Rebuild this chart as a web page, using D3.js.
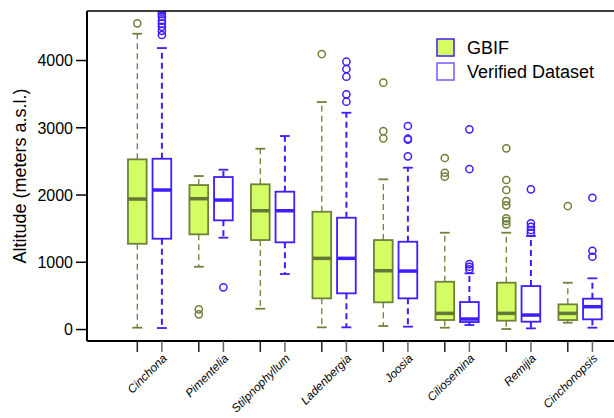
<!DOCTYPE html>
<html>
<head>
<meta charset="utf-8">
<script src="https://cdn.jsdelivr.net/npm/d3@7"></script>
<style>
  body { margin: 0; background: #fff; }
  svg { display: block; font-family: "Liberation Sans", Arial, sans-serif; }
</style>
</head>
<body>
<svg id="chart" width="614" height="418"></svg>
<script>
//
// Data (altitude, m a.s.l.)  [lower whisker, q1, median, q3, upper whisker]
//
var genera = ['Cinchona', 'Pimentelia', 'Stilpnophyllum', 'Ladenbergia',
              'Joosia', 'Ciliosemina', 'Remijia', 'Cinchonopsis']

var gbifStats = [
  [20, 1268, 1933, 2523, 4391],
  [926, 1408, 1938, 2141, 2275],
  [302, 1323, 1759, 2152, 2681],
  [25, 456, 1051, 1744, 3375],
  [45, 397, 867, 1323, 2226],
  [20, 134, 233, 703, 1432],
  [0, 124, 233, 689, 1432],
  [94, 134, 233, 367, 689]
]
var verifiedStats = [
  [15, 1343, 2067, 2532, 4178],
  [1358, 1616, 1918, 2260, 2369],
  [818, 1289, 1759, 2042, 2870],
  [25, 531, 1051, 1655, 3216],
  [35, 456, 862, 1298, 2399],
  [60, 104, 149, 401, 828],
  [10, 109, 208, 639, 1383],
  [20, 144, 332, 451, 754]
]
var gbifOutliers = [
  [4546],
  [293, 219],
  [],
  [4089],
  [3663, 2944, 2836],
  [2543, 2324, 2265],
  [2687, 2216, 2067, 1903, 1839, 1646, 1606, 1557],
  [1829]
]
var verifiedOutliers = [
  [4372, 4434, 4495, 4540, 4585, 4644, 4684, 4720, 4760, 4800],
  [620],
  [],
  [3975, 3866, 3752, 3490, 3380],
  [3019, 2830, 2815, 2568],
  [2969, 2379, 966, 926, 888],
  [2077, 1572, 1521, 1472, 1432],
  [1952, 1164, 1075]
]
var yTicks = [0, 1000, 2000, 3000, 4000]

//
// Styles
//
var colorFill = '#d4fc64'
var colorOlive = '#6e8139'
var colorBlue = '#3c1eff'

var svg = d3.select('#chart')
var pLeft = 87, pTop = 11, pBottom = 341, pRight = 614

var y = d3.scaleLinear().domain([-178, 4729]).range([pBottom, pTop])
// box positions: pairs 1,2 then groups every 2.5 units
var x = d3.scaleLinear().domain([1, 19.5]).range([137.3, 592.4])
function pos(g, s) { return 1 + g * 2.5 + s }

svg.append('defs').append('clipPath').attr('id', 'plotclip')
  .append('rect').attr('x', pLeft).attr('y', pTop).attr('width', pRight - pLeft).attr('height', pBottom - pTop)

var plot = svg.append('g').attr('clip-path', 'url(#plotclip)')

var series = [
  { stats: gbifStats, out: gbifOutliers, fill: colorFill, stroke: colorOlive, med: '#647836', wdash: '6,4', ww: 1.3 },
  { stats: verifiedStats, out: verifiedOutliers, fill: '#fff', stroke: colorBlue, med: colorBlue, wdash: '6,4', ww: 2 }
]

var hw = 0.38, cap = 0.2
series.forEach(function(s, si) {
  var g = plot.append('g')
  s.stats.forEach(function(d, gi) {
    var cx = x(pos(gi, si))
    var bw = x(pos(gi, si) + hw) - cx
    var cw = x(pos(gi, si) + cap) - cx
    // whiskers
    g.append('line').attr('x1', cx).attr('x2', cx).attr('y1', y(d[3])).attr('y2', y(d[4]))
      .attr('stroke', s.stroke).attr('stroke-width', s.ww).attr('stroke-dasharray', s.wdash)
    g.append('line').attr('x1', cx).attr('x2', cx).attr('y1', y(d[1])).attr('y2', y(d[0]))
      .attr('stroke', s.stroke).attr('stroke-width', s.ww).attr('stroke-dasharray', s.wdash)
    g.append('line').attr('x1', cx - cw).attr('x2', cx + cw).attr('y1', y(d[4])).attr('y2', y(d[4]))
      .attr('stroke', s.stroke).attr('stroke-width', 1.8)
    g.append('line').attr('x1', cx - cw).attr('x2', cx + cw).attr('y1', y(d[0])).attr('y2', y(d[0]))
      .attr('stroke', s.stroke).attr('stroke-width', 1.8)
    // box
    g.append('rect').attr('x', cx - bw).attr('width', 2 * bw)
      .attr('y', y(d[3])).attr('height', y(d[1]) - y(d[3]))
      .attr('fill', s.fill).attr('stroke', s.stroke).attr('stroke-width', 1.8)
    // median
    g.append('line').attr('x1', cx - bw).attr('x2', cx + bw).attr('y1', y(d[2])).attr('y2', y(d[2]))
      .attr('stroke', s.med).attr('stroke-width', 3.5)
    // outliers
    g.selectAll(null).data(s.out[gi]).enter().append('circle')
      .attr('cx', cx).attr('cy', function(v) { return y(v) }).attr('r', 3.6)
      .attr('fill', 'none').attr('stroke', s.stroke).attr('stroke-width', 1.5)
  })
})

// frame lines
svg.append('line').attr('x1', pLeft).attr('x2', pRight).attr('y1', pTop).attr('y2', pTop)
  .attr('stroke', '#000').attr('stroke-width', 1.5)
svg.append('line').attr('x1', pLeft).attr('x2', pRight).attr('y1', pBottom).attr('y2', pBottom)
  .attr('stroke', '#000').attr('stroke-width', 2)

// y axis
var yAxis = svg.append('g').attr('transform', 'translate(' + pLeft + ',0)')
  .call(d3.axisLeft(y).tickValues(yTicks).tickFormat(d3.format('d'))
    .tickSize(11).tickPadding(3).tickSizeOuter(0))
yAxis.select('.domain').attr('stroke', '#000').attr('stroke-width', 2)
  .attr('d', 'M0,' + pTop + 'V' + pBottom)
yAxis.selectAll('.tick line').attr('stroke', '#000').attr('stroke-width', 1.5)
yAxis.selectAll('.tick text').attr('font-size', 16).attr('fill', '#000')
  .attr('font-family', '"Liberation Sans", Arial, sans-serif').attr('dy', '0.36em')

// x ticks
var tickPos = []
genera.forEach(function(n, gi) { tickPos.push(pos(gi, 0), pos(gi, 1)) })
svg.append('g').selectAll('line').data(tickPos).enter().append('line')
  .attr('x1', function(p) { return x(p) }).attr('x2', function(p) { return x(p) })
  .attr('y1', pBottom).attr('y2', pBottom + 11)
  .attr('stroke', function(p, i) { return i % 2 ? '#666' : '#222' }).attr('stroke-width', 1.5)

// x labels
svg.append('g').selectAll('text').data(genera).enter().append('text')
  .attr('transform', function(n, gi) {
    var cx = x(pos(gi, 0.5))
    return 'translate(' + (cx + 18) + ',' + 359 + ') rotate(-45)'
  })
  .attr('text-anchor', 'end').attr('font-size', 11.8).attr('font-style', 'italic')
  .text(function(n) { return n })

// y label
svg.append('text').attr('transform', 'translate(26,176) rotate(-90)')
  .attr('text-anchor', 'middle').attr('font-size', 18).text('Altitude (meters a.s.l.)')

// legend
var legend = svg.append('g').attr('transform', 'translate(437,39)')
var items = [{ name: 'GBIF', fill: colorFill }, { name: 'Verified Dataset', fill: '#fff' }]
items.forEach(function(it, i) {
  legend.append('rect').attr('x', 0).attr('y', i * 24).attr('width', 17).attr('height', 17)
    .attr('fill', it.fill).attr('stroke', i ? '#6f5cff' : colorBlue).attr('stroke-width', 1.5)
  legend.append('text').attr('x', 30).attr('y', i * 24 + 15).attr('font-size', 18).text(it.name)
})
</script>
</body>
</html>
